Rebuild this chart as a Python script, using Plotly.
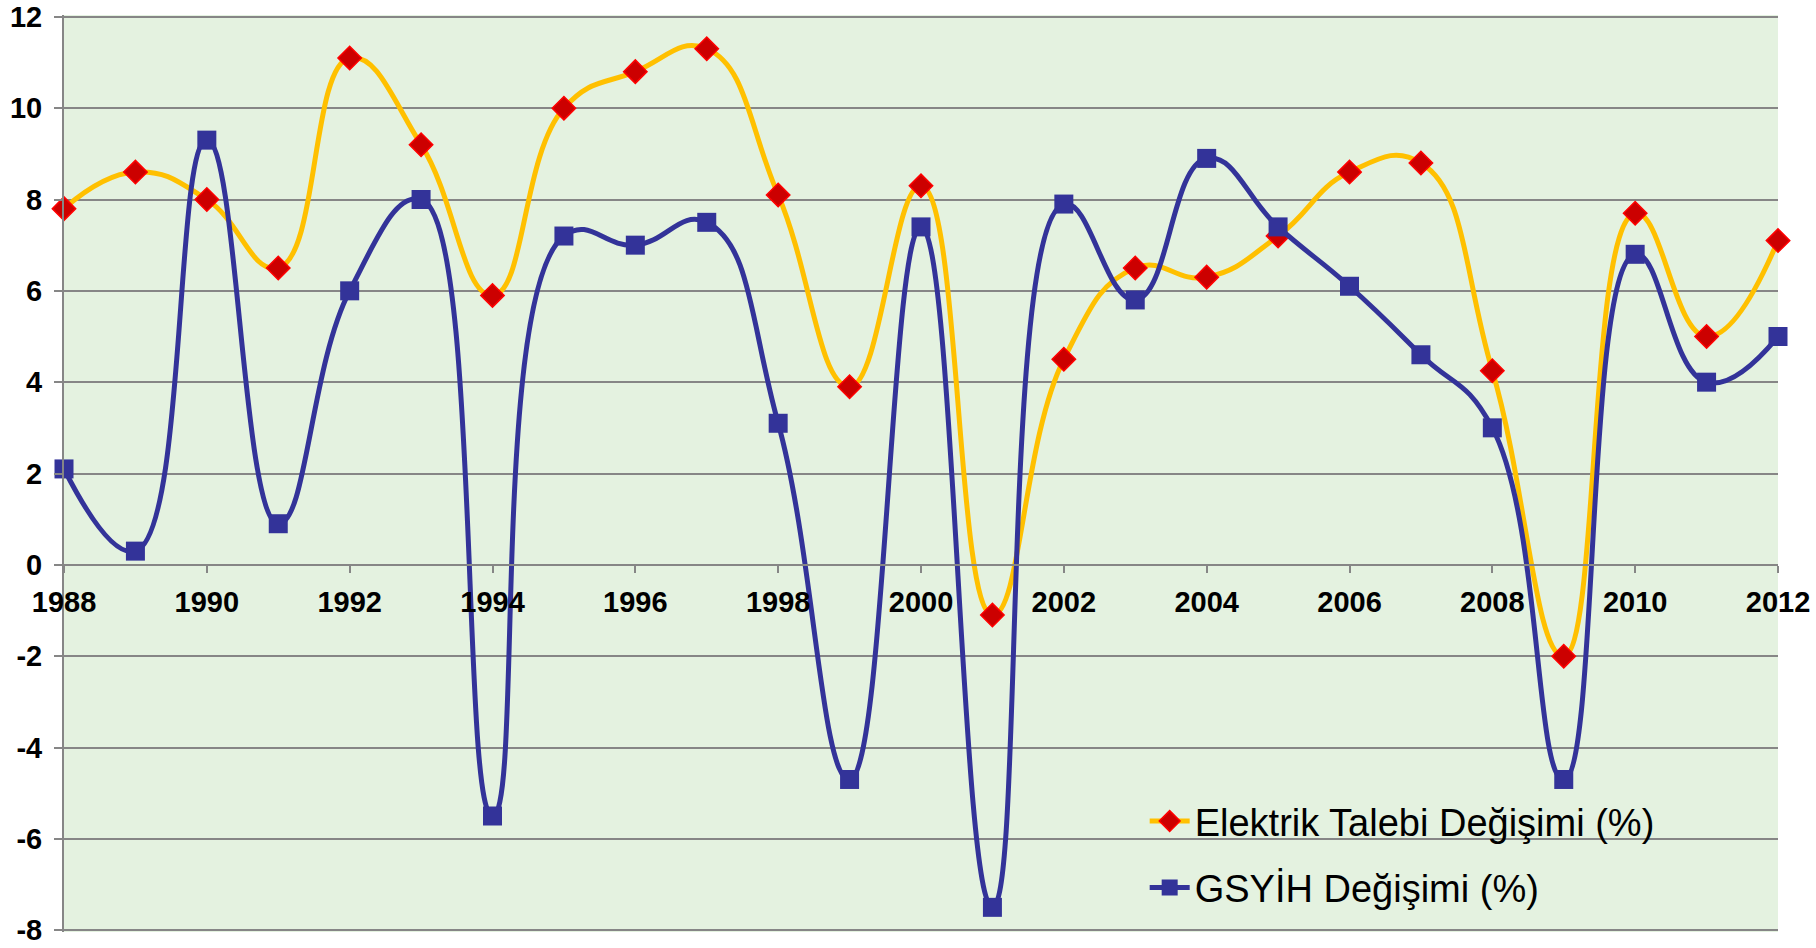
import plotly.graph_objects as go

years = list(range(1988, 2013))
elektrik = [7.8, 8.6, 8.0, 6.5, 11.1, 9.2, 5.9, 10.0, 10.8, 11.3, 8.1, 3.9, 8.3,
            -1.1, 4.5, 6.5, 6.3, 7.2, 8.6, 8.8, 4.25, -2.0, 7.7, 5.0, 7.1]
gsyih = [2.1, 0.3, 9.3, 0.9, 6.0, 8.0, -5.5, 7.2, 7.0, 7.5, 3.1, -4.7, 7.4,
         -7.5, 7.9, 5.8, 8.9, 7.4, 6.1, 4.6, 3.0, -4.7, 6.8, 4.0, 5.0]
x_ticks = list(range(1988, 2013, 2))
y_ticks = list(range(-8, 13, 2))

tickfont = dict(size=29, family="Liberation Sans, Arial, sans-serif", weight="bold", color="black")

fig = go.Figure()
fig.add_trace(go.Scatter(
    x=years, y=elektrik, name="Elektrik Talebi Değişimi (%)",
    mode="lines+markers", line=dict(color="#FFC000", width=5, shape="spline", smoothing=1.3),
    marker=dict(symbol="diamond", size=18, color="#CC0000", line=dict(color="#FF0000", width=1.5)),
    cliponaxis=False, legendgroup="a"))
fig.add_trace(go.Scatter(
    x=years, y=gsyih, name="GSYİH Değişimi (%)",
    mode="lines+markers", line=dict(color="#333399", width=5, shape="spline", smoothing=1.3),
    marker=dict(symbol="square", size=19, color="#333399"),
    cliponaxis=False, legendgroup="b"))

fig.update_layout(
    width=1816, height=948,
    margin=dict(l=64, r=38, t=15, b=16, autoexpand=False),
    paper_bgcolor="white", plot_bgcolor="#E4F2E0",
    font=dict(family="Liberation Sans, Arial, sans-serif", color="black"),
    showlegend=True,
    legend=dict(x=0.6305, y=0.155, xanchor="left", yanchor="top",
                bgcolor="rgba(0,0,0,0)", font=dict(size=38),
                traceorder="grouped", tracegroupgap=14, itemwidth=40),
    xaxis=dict(range=[1988, 2012], tickvals=x_ticks, ticktext=[str(t) for t in x_ticks],
               anchor="free", position=0.4, showgrid=False, zeroline=False, automargin=False,
               showline=True, linecolor="#868686", linewidth=2,
               ticks="outside", ticklen=7, tickwidth=2, tickcolor="#868686",
               ticklabelstandoff=4, ticklabeloverflow="allow", tickfont=tickfont),
    yaxis=dict(range=[-8.04, 12.04], tickvals=y_ticks, ticktext=[str(t) for t in y_ticks],
               showgrid=True, gridcolor="#868686", gridwidth=2, zeroline=False, automargin=False,
               showline=True, linecolor="#868686", linewidth=2,
               ticks="outside", ticklen=8, tickwidth=2, tickcolor="#868686",
               ticklabelstandoff=6, ticklabeloverflow="allow", tickfont=tickfont),
)
fig.write_html("out.html", config={"displayModeBar": False},
               post_script="document.body.style.margin='0';document.body.style.overflow='hidden';")
